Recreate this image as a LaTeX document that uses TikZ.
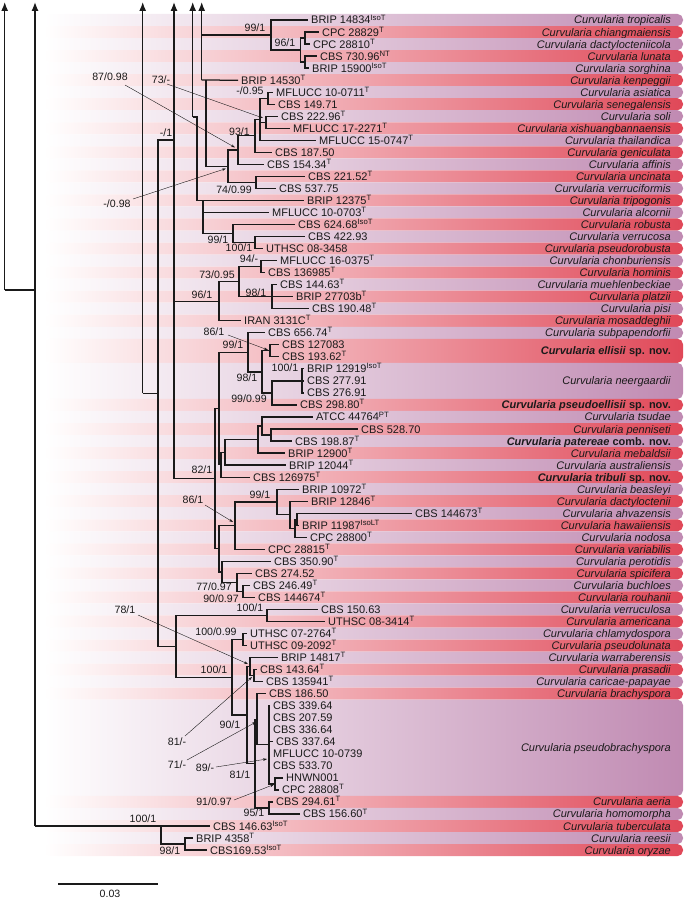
\documentclass[tikz,border=0pt]{standalone}
\usepackage{fontspec}
\setmainfont{Liberation Sans}
\usetikzlibrary{arrows.meta}
\definecolor{redR}{HTML}{E04858}
\definecolor{redM}{HTML}{F3B8C0}
\definecolor{lilR}{HTML}{C08AB2}
\definecolor{lilM}{HTML}{E0C6DC}
\definecolor{ink}{HTML}{1A1A1A}
\newcommand\sT{\textsuperscript{T}}
\newcommand\sIsoT{\textsuperscript{IsoT}}
\newcommand\sNT{\textsuperscript{NT}}
\newcommand\sPT{\textsuperscript{PT}}
\newcommand\sIsoLT{\textsuperscript{IsoLT}}
\newcommand\Cv[1]{\textit{Curvularia #1}}
\newcommand\Cb[2]{\textbf{\textit{Curvularia #1} #2}}
\newcommand\clade[2]{\foreach \ch in {#2}{\draw[br] (#1) |- (\ch);}}
\begin{document}
\begin{tikzpicture}[x=1pt,y=-1pt,
  br/.style={line width=1.25pt, draw=ink},
  tiplab/.style={anchor=base west, inner sep=0pt, text=ink, font=\fontsize{11}{13}\selectfont},
  splab/.style={anchor=base east, inner sep=0pt, text=ink, font=\fontsize{11}{13}\selectfont},
  sup/.style={inner sep=0pt, text=ink, font=\fontsize{10.6}{12}\selectfont},
  ptr/.style={draw=ink, line width=0.4pt, -{Stealth[length=4pt,width=2.6pt]}},
  topar/.style={br, -{Latex[length=9pt,width=7pt]}}]
\useasboundingbox (0,0) rectangle (685,899);

% ---------- coloured rows ----------
\foreach \a/\b/\cl/\t in {
 1/1/lil/\Cv{tropicalis}, 2/2/red/\Cv{chiangmaiensis}, 3/3/lil/\Cv{dactylocteniicola},
 4/4/red/\Cv{lunata}, 5/5/lil/\Cv{sorghina}, 6/6/red/\Cv{kenpeggii},
 7/7/lil/\Cv{asiatica}, 8/8/red/\Cv{senegalensis}, 9/9/lil/\Cv{soli},
 10/10/red/\Cv{xishuangbannaensis}, 11/11/lil/\Cv{thailandica}, 12/12/red/\Cv{geniculata},
 13/13/lil/\Cv{affinis}, 14/14/red/\Cv{uncinata}, 15/15/lil/\Cv{verruciformis},
 16/16/red/\Cv{tripogonis}, 17/17/lil/\Cv{alcornii}, 18/18/red/\Cv{robusta},
 19/19/lil/\Cv{verrucosa}, 20/20/red/\Cv{pseudorobusta}, 21/21/lil/\Cv{chonburiensis},
 22/22/red/\Cv{hominis}, 23/23/lil/\Cv{muehlenbeckiae}, 24/24/red/\Cv{platzii},
 25/25/lil/\Cv{pisi}, 26/26/red/\Cv{mosaddeghii}, 27/27/lil/\Cv{subpapendorfii},
 28/29/red/{\Cb{ellisii}{sp. nov.}}, 30/32/lil/\Cv{neergaardii},
 33/33/red/{\Cb{pseudoellisii}{sp. nov.}}, 34/34/lil/\Cv{tsudae}, 35/35/red/\Cv{penniseti},
 36/36/lil/{\Cb{patereae}{comb. nov.}}, 37/37/red/\Cv{mebaldsii}, 38/38/lil/\Cv{australiensis},
 39/39/red/{\Cb{tribuli}{sp. nov.}}, 40/40/lil/\Cv{beasleyi}, 41/41/red/\Cv{dactyloctenii},
 42/42/lil/\Cv{ahvazensis}, 43/43/red/\Cv{hawaiiensis}, 44/44/lil/\Cv{nodosa},
 45/45/red/\Cv{variabilis}, 46/46/lil/\Cv{perotidis}, 47/47/red/\Cv{spicifera},
 48/48/lil/\Cv{buchloes}, 49/49/red/\Cv{rouhanii}, 50/50/lil/\Cv{verruculosa},
 51/51/red/\Cv{americana}, 52/52/lil/\Cv{chlamydospora}, 53/53/red/\Cv{pseudolunata},
 54/54/lil/\Cv{warraberensis}, 55/55/red/\Cv{prasadii}, 56/56/lil/\Cv{caricae-papayae},
 57/57/red/\Cv{brachyspora}, 58/65/lil/\Cv{pseudobrachyspora}, 66/66/red/\Cv{aeria},
 67/67/lil/\Cv{homomorpha}, 68/68/red/\Cv{tuberculata}, 69/69/lil/\Cv{reesii},
 70/70/red/\Cv{oryzae}}{
  \pgfmathsetmacro\yt{1.955+12.03*\a}
  \pgfmathsetmacro\yb{13.985+12.03*\b}
  \pgfmathsetmacro\ym{(\yt+\yb)/2+4}
  \shade[rounded corners=5.5pt, left color=white, middle color=\cl M, right color=\cl R]
     (44,\yt) rectangle (683,\yb);
  \node[splab] (sp\a) at (671,\ym) {\t};
}

% ---------- tips ----------
\foreach \r/\x/\t in {
 1/308/{BRIP 14834\sIsoT}, 2/319/{CPC 28829\sT}, 3/310/{CPC 28810\sT}, 4/317/{CBS 730.96\sNT},
 5/309/{BRIP 15900\sIsoT}, 6/238/{BRIP 14530\sT}, 7/273/{MFLUCC 10-0711\sT}, 8/275/{CBS 149.71},
 9/278/{CBS 222.96\sT}, 10/290/{MFLUCC 17-2271\sT}, 11/316/{MFLUCC 15-0747\sT}, 12/272/{CBS 187.50},
 13/264/{CBS 154.34\sT}, 14/305/{CBS 221.52\sT}, 15/276/{CBS 537.75}, 16/304/{BRIP 12375\sT},
 17/269/{MFLUCC 10-0703\sT}, 18/295/{CBS 624.68\sIsoT}, 19/305/{CBS 422.93}, 20/263/{UTHSC 08-3458},
 21/277/{MFLUCC 16-0375\sT}, 22/265/{CBS 136985\sT}, 23/277/{CBS 144.63\sT}, 24/293/{BRIP 27703b\sT},
 25/309/{CBS 190.48\sT}, 26/241/{IRAN 3131C\sT}, 27/265/{CBS 656.74\sT}, 28/279/{CBS 127083},
 29/279/{CBS 193.62\sT}, 30/304/{BRIP 12919\sIsoT}, 31/304/{CBS 277.91}, 32/304/{CBS 276.91},
 33/297/{CBS 298.80\sT}, 34/313/{ATCC 44764\sPT}, 35/358/{CBS 528.70}, 36/292/{CBS 198.87\sT},
 37/285/{BRIP 12900\sT}, 38/286/{BRIP 12044\sT}, 39/250/{CBS 126975\sT}, 40/299/{BRIP 10972\sT},
 41/308/{BRIP 12846\sT}, 42/412/{CBS 144673\sT}, 43/299/{BRIP 11987\sIsoLT}, 44/307/{CPC 28800\sT},
 45/265/{CPC 28815\sT}, 46/271/{CBS 350.90\sT}, 47/252/{CBS 274.52}, 48/250/{CBS 246.49\sT},
 49/255/{CBS 144674\sT}, 50/318/{CBS 150.63}, 51/325/{UTHSC 08-3414\sT}, 52/247/{UTHSC 07-2764\sT},
 53/247/{UTHSC 09-2092\sT}, 54/278/{BRIP 14817\sT}, 55/257/{CBS 143.64\sT}, 56/263/{CBS 135941\sT},
 57/266/{CBS 186.50}, 58/270/{CBS 339.64}, 59/270/{CBS 207.59}, 60/270/{CBS 336.64},
 61/273/{CBS 337.64}, 62/270/{MFLUCC 10-0739}, 63/270/{CBS 533.70}, 64/283/{HNWN001},
 65/279/{CPC 28808\sT}, 66/273/{CBS 294.61\sT}, 67/300/{CBS 156.60\sT}, 68/210/{CBS 146.63\sIsoT},
 69/193/{BRIP 4358\sT}, 70/207/{CBS169.53\sIsoT}}{
  \pgfmathsetmacro\y{7.97+12.03*\r}
  \coordinate (t\r) at (\x,\y);
  \node[tiplab] (l\r) at (\x+3,\y+4) {\t};
}

% ---------- internal nodes ----------
\coordinate (n96a) at (305,38.05);  \clade{n96a}{t2,t3}
\coordinate (n96b) at (305,62.1);   \clade{n96b}{t4,t5}
\coordinate (n96) at (300.7,50.1);  \clade{n96}{n96a,n96b}
\coordinate (n99a) at (271,35.05);  \clade{n99a}{t1,n96}
\coordinate (n095) at (268,98.2);   \clade{n095}{t7,t8}
\coordinate (n73) at (266,122.25);  \clade{n73}{t9,t10}
\coordinate (n260) at (260,119.3);  \clade{n260}{n095,n73,t11}
\coordinate (n93) at (255,135.8);   \clade{n93}{n260,t12}
\coordinate (n87) at (238,150.1);   \clade{n87}{n93,t13}
\coordinate (n74) at (256,182.4);   \clade{n74}{t14,t15}
\coordinate (n098) at (228,166.25); \clade{n098}{n87,n74}
\coordinate (n100a) at (255,242.55); \clade{n100a}{t19,t20}
\coordinate (n99b) at (233,233.5);  \clade{n99b}{t18,n100a}
\coordinate (n94) at (261,266.6);   \clade{n94}{t21,t22}
\coordinate (n98a) at (272,296.7);  \clade{n98a}{t23,t24,t25}
\coordinate (n7395) at (239,281.65); \clade{n7395}{n94,n98a}
\coordinate (n96c) at (219,301.2);  \clade{n96c}{n7395,t26}
\coordinate (n86a) at (270,350.8);  \clade{n86a}{t28,t29}
\coordinate (n100b) at (302,380.9); \clade{n100b}{t30,t31,t32}
\coordinate (n9999) at (272,392.95); \clade{n9999}{n100b,t33}
\coordinate (n98b) at (262,371.9);  \clade{n98b}{n86a,n9999}
\coordinate (n99c) at (248,352.35); \clade{n99c}{t27,n98b}
\coordinate (n271) at (271,435.05); \clade{n271}{t35,t36}
\coordinate (n262) at (262,426.0);  \clade{n262}{t34,n271}
\coordinate (n258) at (258,439.55); \clade{n258}{n262,t37}
\coordinate (n225) at (225,452.3);  \clade{n225}{n258,t38}
\coordinate (n221) at (221,464.7);  \clade{n221}{n225,t39}
\coordinate (n219) at (219,408.5);  \clade{n219}{n99c,n221}
\coordinate (n297) at (297,519.25); \clade{n297}{t42,t43}
\coordinate (n295) at (295,528.3);  \clade{n295}{n297,t44}
\coordinate (n290) at (290,514.75); \clade{n290}{t41,n295}
\coordinate (n99d) at (277,502);    \clade{n99d}{t40,n290}
\coordinate (n86b) at (235,525.65); \clade{n86b}{n99d,t45}
\coordinate (n90097) at (243,591.4); \clade{n90097}{t48,t49}
\coordinate (n77097) at (237,582.4); \clade{n77097}{t47,n90097}
\coordinate (n222) at (222,571.9);  \clade{n222}{t46,n77097}
\coordinate (n219b) at (219,548.8); \clade{n219b}{n86b,n222}
\coordinate (n82) at (215,478.65);  \clade{n82}{n219,n219b}
\coordinate (nverr) at (267,615.5); \clade{nverr}{t50,t51}
\coordinate (n10099) at (243,639.55); \clade{n10099}{t52,t53}
\coordinate (n81m) at (254,675.65); \clade{n81m}{t55,t56}
\coordinate (n78) at (250,666.6);   \clade{n78}{t54,n81m}
\coordinate (n91) at (275,783.9);   \clade{n91}{t64,t65}
\coordinate (n89) at (269,744.8);   \clade{n89}{t58,t59,t60,t61,t62,t63,n91}
\coordinate (n71) at (257,719.25);  \clade{n71}{t57,n89}
\coordinate (n95) at (269,808);     \clade{n95}{t66,t67}
\coordinate (n811) at (255,763.6);  \clade{n811}{n71,n95}
\coordinate (n90) at (247,715.1);   \clade{n90}{n78,n811}
\coordinate (n100c) at (232,677.35); \clade{n100c}{n10099,n90}
\coordinate (nG) at (176,646.4);    \clade{nG}{nverr,n100c}
\coordinate (n98c) at (185,844.05); \clade{n98c}{t69,t70}
\coordinate (n100d) at (161,826.0); \clade{n100d}{t68,n98c}

% upper part with truncated (arrowed) lines
\coordinate (a202) at (201.7,2);   \coordinate (j202) at (201.7,80.1);
\draw[topar] (j202) -- (a202);
\draw[br] (j202) |- (n99a);
\draw[br] (j202) -- (t6);
\coordinate (n206) at (206,80.1);  \draw[br] (n206) |- (n098);
\coordinate (a193) at (192.7,2);   \coordinate (j193) at (192.7,117);
\draw[topar] (j193) -- (a193);
\coordinate (n197) at (197,117);
\draw[br] (j193) -- (n197) |- (t16);
\coordinate (n203) at (203,200.4); \clade{n203}{t17,n99b}
\draw[br] (n197) |- (n203);
\coordinate (a174) at (174,2);     \coordinate (n174) at (174,478.65);
\draw[topar] (n174) -- (a174);
\clade{n174}{n82,n96c}
\coordinate (j174) at (174,140);
\coordinate (n158) at (158,393.2); \clade{n158}{j174,nG}
\coordinate (a143) at (142.7,2);   \coordinate (n143) at (142.7,393.2);
\draw[topar] (n143) -- (a143);
\draw[br] (n143) -- (n158);
\coordinate (a35) at (35,2);       \coordinate (n35) at (35,826);
\draw[topar] (n35) -- (a35);
\draw[br] (n35) -- (n100d);
\coordinate (a5) at (4.7,2);       \coordinate (n5) at (4.7,290);
\coordinate (j35) at (35,290);
\draw[topar] (n5) -- (a5);
\draw[br] (n5) -- (j35);

% ---------- support values ----------
\node[sup] at (255,28) {99/1};
\node[sup] at (285,43) {96/1};
\node[sup] at (250,91) {-/0.95};
\node[sup] at (239.5,131.7) {93/1};
\node[sup] at (234,190) {74/0.99};
\node[sup] at (166,133) {-/1};
\node[sup] at (218,240) {99/1};
\node[sup] at (239,247.5) {100/1};
\node[sup] at (249,258.3) {94/-};
\node[sup] at (217,275) {73/0.95};
\node[sup] at (202,295) {96/1};
\node[sup] at (256,293) {98/1};
\node[sup] at (233,345) {99/1};
\node[sup] at (285,368) {100/1};
\node[sup] at (247,378) {98/1};
\node[sup] at (249,399) {99/0.99};
\node[sup] at (202,470) {82/1};
\node[sup] at (260,495) {99/1};
\node[sup] at (214,587) {77/0.97};
\node[sup] at (221,599) {90/0.97};
\node[sup] at (250,608) {100/1};
\node[sup] at (216,632) {100/0.99};
\node[sup] at (214,670) {100/1};
\node[sup] at (230,725) {90/1};
\node[sup] at (240,775) {81/1};
\node[sup] at (254,813) {95/1};
\node[sup] at (143,819) {100/1};
\node[sup] at (170,851) {98/1};

% labels with pointers
\node[sup] (s87) at (110,77) {87/0.98};
\coordinate (q87) at (125,85); \coordinate (p87) at (235,147.5);
\draw[ptr] (q87) -- (p87);
\node[sup] (s73) at (161,80) {73/-};
\coordinate (q73) at (167,84); \coordinate (p73) at (263,118);
\draw[ptr] (q73) -- (p73);
\node[sup] (s098) at (117,204) {-/0.98};
\coordinate (q098) at (133,199); \coordinate (p098) at (226,168.5);
\draw[ptr] (q098) -- (p098);
\node[sup] (s86a) at (214,332) {86/1};
\coordinate (q86a) at (228,335); \coordinate (p86a) at (268,350);
\draw[ptr] (q86a) -- (p86a);
\node[sup] (s86b) at (193,500) {86/1};
\coordinate (q86b) at (205,505); \coordinate (p86b) at (233,522);
\draw[ptr] (q86b) -- (p86b);
\node[sup] (s78) at (125,610) {78/1};
\coordinate (q78) at (138,615); \coordinate (p78) at (248,664);
\draw[ptr] (q78) -- (p78);
\node[sup] (s81) at (177,742) {81/-};
\coordinate (q81) at (185,736); \coordinate (p81) at (252,677);
\draw[ptr] (q81) -- (p81);
\node[sup] (s71) at (177,765) {71/-};
\coordinate (q71) at (187,760); \coordinate (p71) at (256,722);
\draw[ptr] (q71) -- (p71);
\node[sup] (s89) at (205,768) {89/-};
\coordinate (q89) at (216,767); \coordinate (p89) at (267,759);
\draw[ptr] (q89) -- (p89);
\node[sup] (s91) at (214,802) {91/0.97};
\coordinate (q91) at (234,800); \coordinate (p91) at (274,784.5);
\draw[ptr] (q91) -- (p91);

% ---------- scale bar ----------
\coordinate (sb1) at (58,884); \coordinate (sb2) at (158,884);
\draw[br] (sb1) -- (sb2);
\node[sup, anchor=base] (sbl) at (110,897) {0.03};
\end{tikzpicture}
\end{document}
